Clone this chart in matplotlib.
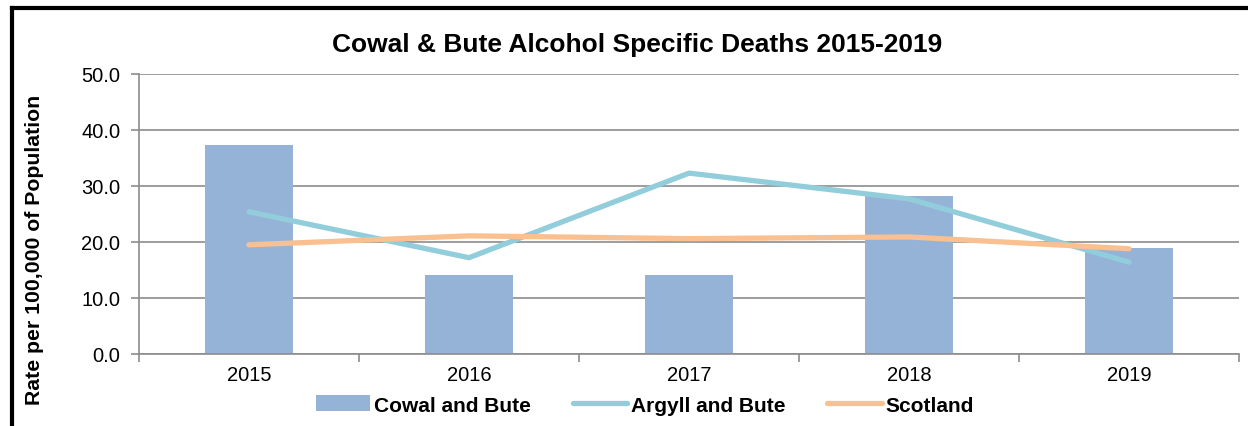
import matplotlib.pyplot as plt
import numpy as np
from matplotlib.lines import Line2D

plt.rcParams['font.family'] = ['Liberation Sans', 'DejaVu Sans']

years = ['2015', '2016', '2017', '2018', '2019']
cowal_bute = [37.3, 14.1, 14.1, 28.2, 18.9]
argyll_bute = [25.4, 17.2, 32.3, 27.7, 16.4]
scotland = [19.5, 21.1, 20.6, 20.9, 18.8]


def main():
    fig = plt.figure(figsize=(12.48, 4.27), dpi=100)
    ax = fig.add_axes([139 / 1248, 72 / 427, 1100 / 1248, 280 / 427])

    x = np.arange(len(years))
    bars = ax.bar(x, cowal_bute, width=0.4, color='#95B3D7', zorder=2)
    l1, = ax.plot(x, argyll_bute, color='#92CDDC', lw=3.8, zorder=3, solid_capstyle='round')
    l2, = ax.plot(x, scotland, color='#FAC090', lw=3.8, zorder=4, solid_capstyle='round')

    ax.set_xlim(-0.5, len(years) - 0.5)
    ax.set_ylim(0, 50)
    ticks = np.arange(0, 51, 10)
    ax.set_yticks(ticks)
    ax.set_yticklabels([f"{v:.1f}" for v in ticks], fontsize=14.5)
    ax.yaxis.grid(True, color='#8c8c8c', lw=1.2, zorder=0)
    ax.set_axisbelow(True)

    ax.set_xticks(x)
    ax.set_xticklabels(years, fontsize=14.5)
    ax.set_xticks(np.arange(-0.5, len(years)), minor=True)
    ax.tick_params(axis='x', which='major', length=0, pad=8)
    ax.tick_params(axis='x', which='minor', length=6, color='#8c8c8c', width=1.2)
    ax.tick_params(axis='y', length=6, color='#8c8c8c', width=1.2, pad=7.5)

    for side in ['top', 'right']:
        ax.spines[side].set_visible(False)
    for side in ['left', 'bottom']:
        ax.spines[side].set_color('#8c8c8c')
        ax.spines[side].set_linewidth(1.2)

    fig.text(35 / 1248, 1 - 250 / 427, 'Rate per 100,000 of Population', rotation=90,
             ha='center', va='center', fontsize=15.3, fontweight='bold')

    fig.text(637 / 1248, 1 - 45 / 427, 'Cowal & Bute Alcohol Specific Deaths 2015-2019',
             ha='center', va='center', fontsize=19, fontweight='bold')

    fig.legend([bars, l1, l2], ['Cowal and Bute', 'Argyll and Bute', 'Scotland'],
               loc='center', bbox_to_anchor=(645 / 1248, 1 - 406 / 427), ncol=3,
               frameon=False, prop={'size': 15, 'weight': 'bold'},
               handlelength=2.6, handleheight=0.8, columnspacing=2.0, handletextpad=0.2)

    # outer frame: only top and left edges fall inside the picture
    fig.add_artist(Line2D([11.5 / 1248, 1.05], [1 - 9 / 427, 1 - 9 / 427],
                          transform=fig.transFigure, color='black', lw=3))
    fig.add_artist(Line2D([11.5 / 1248, 11.5 / 1248], [-0.05, 1 - 9 / 427],
                          transform=fig.transFigure, color='black', lw=3))

    fig.savefig('out.png', dpi=100)


if __name__ == '__main__':
    main()
